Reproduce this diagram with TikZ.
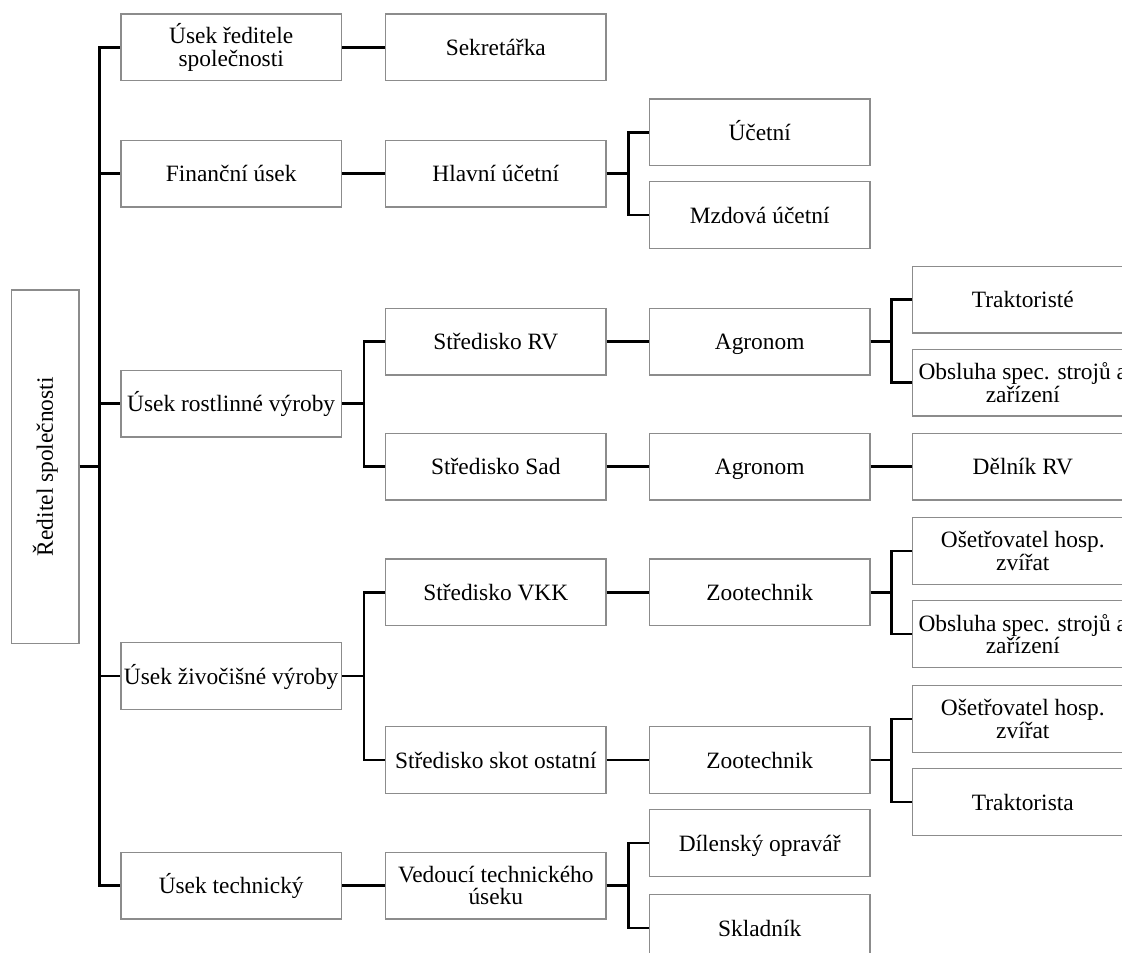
\documentclass[tikz,border=0pt]{standalone}
\usepackage{fontspec}
\setmainfont{Liberation Serif}
\definecolor{boxgray}{RGB}{140,140,140}
\newcommand{\orgfont}{\fontsize{23.4pt}{22.5pt}\selectfont}
\begin{document}
\begin{tikzpicture}[x=1pt,y=-1pt,
  box/.style={draw=boxgray, line width=1.3pt, minimum width=220.5pt, minimum height=66.7pt,
    inner sep=0pt, align=center, font=\orgfont, text=black},
  sbox/.style={box, text height=17pt, text depth=1pt},
  conn/.style={line width=2.6pt, black, line join=miter}]
\useasboundingbox (0,0) rectangle (1122,953);
\clip (0,0) rectangle (1122,953);
% root
\node[box, minimum width=67.3pt, minimum height=353.3pt] (root) at (45.3,466.7) {\rotatebox{90}{Ředitel společnosti}};
% level 1
\node[box] (a1) at (231.2,47.3) {Úsek ředitele\\společnosti};
\node[sbox] (b1) at (231.2,173.5) {Finanční úsek};
\node[sbox] (c1) at (231.2,403.5) {Úsek rostlinné výroby};
\node[sbox] (d1) at (231.2,676) {Úsek živočišné výroby};
\node[sbox] (e1) at (231.2,885.5) {Úsek technický};
% level 2
\node[sbox] (a2) at (495.8,47.3) {Sekretářka};
\node[sbox] (b2) at (495.8,173.5) {Hlavní účetní};
\node[sbox] (c2) at (495.8,341.7) {Středisko RV};
\node[sbox] (c3) at (495.8,466.7) {Středisko Sad};
\node[sbox] (d2) at (495.8,592.3) {Středisko VKK};
\node[sbox] (d3) at (495.8,760) {Středisko skot ostatní};
\node[box] (e2) at (495.8,885.5) {Vedoucí technického\\úseku};
% level 3
\node[sbox] (b3) at (759.7,132.3) {Účetní};
\node[sbox] (b4) at (759.7,215) {Mzdová účetní};
\node[sbox] (c2a) at (759.7,341.7) {Agronom};
\node[sbox] (c3a) at (759.7,466.7) {Agronom};
\node[sbox] (d2a) at (759.7,592.3) {Zootechnik};
\node[sbox] (d3a) at (759.7,760) {Zootechnik};
\node[sbox] (e3) at (759.7,843) {Dílenský opravář};
\node[sbox] (e4) at (759.7,928) {Skladník};
% level 4
\node[sbox] (c2b) at (1022.8,299.5) {Traktoristé};
\node[box] (c2c) at (1022.8,382.5) {Obsluha spec. strojů a\\zařízení};
\node[sbox] (c3b) at (1022.8,466.7) {Dělník RV};
\node[box] (d2b) at (1022.8,551) {Ošetřovatel hosp.\\zvířat};
\node[box] (d2c) at (1022.8,634) {Obsluha spec. strojů a\\zařízení};
\node[box] (d3b) at (1022.8,719) {Ošetřovatel hosp.\\zvířat};
\node[sbox] (d3c) at (1022.8,802) {Traktorista};
% connectors
\coordinate (bus1) at (99.3,466.7);
\draw[conn] (root.east) -- (bus1);
\foreach \n in {a1,b1,c1,d1,e1} \draw[conn] (bus1) |- (\n.west);
\draw[conn] (a1.east) -- (a2.west);
\draw[conn] (b1.east) -- (b2.west);
\draw[conn] (c1.east) -- ++(21.8,0) |- (c2.west);
\draw[conn] (c1.east) -- ++(21.8,0) |- (c3.west);
\draw[conn] (d1.east) -- ++(21.8,0) |- (d2.west);
\draw[conn] (d1.east) -- ++(21.8,0) |- (d3.west);
\draw[conn] (e1.east) -- (e2.west);
\draw[conn] (b2.east) -- ++(22,0) |- (b3.west);
\draw[conn] (b2.east) -- ++(22,0) |- (b4.west);
\draw[conn] (c2.east) -- (c2a.west);
\draw[conn] (c3.east) -- (c3a.west);
\draw[conn] (d2.east) -- (d2a.west);
\draw[conn] (d3.east) -- (d3a.west);
\draw[conn] (e2.east) -- ++(22,0) |- (e3.west);
\draw[conn] (e2.east) -- ++(22,0) |- (e4.west);
\draw[conn] (c2a.east) -- ++(21,0) |- (c2b.west);
\draw[conn] (c2a.east) -- ++(21,0) |- (c2c.west);
\draw[conn] (c3a.east) -- (c3b.west);
\draw[conn] (d2a.east) -- ++(21,0) |- (d2b.west);
\draw[conn] (d2a.east) -- ++(21,0) |- (d2c.west);
\draw[conn] (d3a.east) -- ++(21,0) |- (d3b.west);
\draw[conn] (d3a.east) -- ++(21,0) |- (d3c.west);
\end{tikzpicture}
\end{document}
